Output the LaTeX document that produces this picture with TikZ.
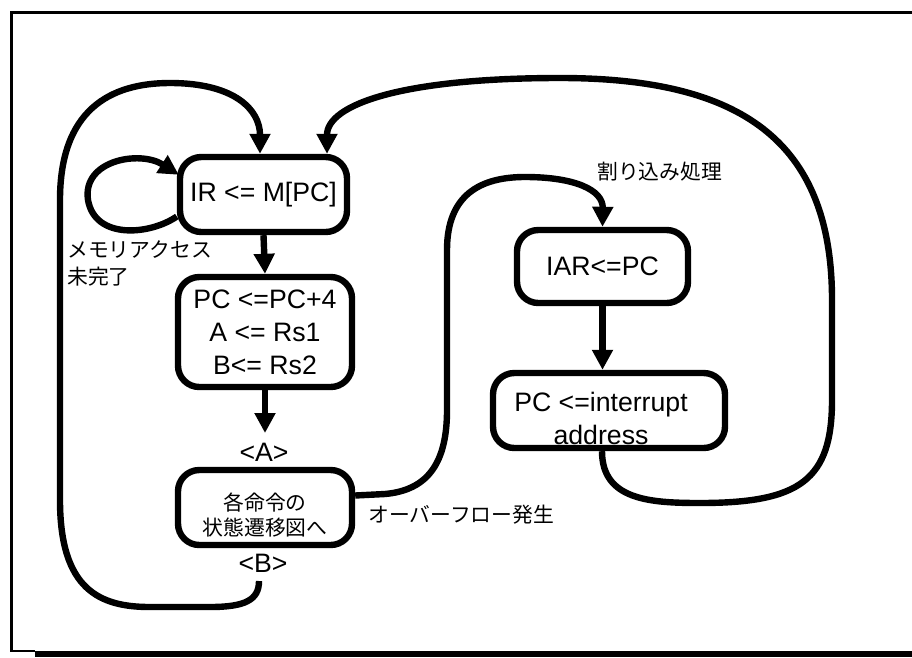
\documentclass[tikz,border=0pt]{standalone}
\usepackage{fontspec}
\setmainfont{Liberation Sans}
\newfontfamily\jp{Noto Sans CJK JP}
\usetikzlibrary{arrows.meta,calc}
\begin{document}
\begin{tikzpicture}[x=0.75pt,y=-0.75pt,
  box/.style={draw,line width=4.8pt,rounded corners=16pt,inner sep=0pt,align=center,
    font=\fontsize{20}{24.75}\selectfont},
  conn/.style={line width=4.8pt},
  arr/.style={conn,-{Triangle[length=15pt,width=15pt]}},
  lbl/.style={font=\fontsize{20}{24.75}\selectfont,inner sep=0pt,align=center},
  jlbl/.style={font=\jp\fontsize{15.6}{20}\selectfont,inner sep=0pt}]
\useasboundingbox (0,0) rectangle (912,657);
% frame
\draw[line width=2.4pt] (11.5,651) -- (11.5,12.5) -- (912,12.5);
\draw[line width=1.5pt] (10,651) -- (35,651);
\fill (35,651) rectangle (912,657);
% boxes
\node[box,minimum width=125.25pt,minimum height=56.25pt] (ir) at (263.5,194.5) {IR <= M[PC]};
\node[box,minimum width=130.5pt,minimum height=82.5pt] (pc) at (265,332) {PC <=PC+4\\A <= Rs1\\B<= Rs2};
\node[box,minimum width=130.5pt,minimum height=56.25pt] (inst) at (265,507.5) {};
\node[box,minimum width=128.25pt,minimum height=54.75pt] (iar) at (602.5,266.5) {IAR<=PC};
\node[box,minimum width=174pt,minimum height=56.25pt] (pci) at (609,410.5) {};
% texts
\node[jlbl,align=center,font=\jp\fontsize{15.6}{18.75}\selectfont] (instT) at (265,515.5) {各命令の\\状態遷移図へ};
\node[lbl] (pciT) at (601,418.5) {PC <=interrupt\\address};
\node[lbl] (lA) at (264,452) {<A>};
\node[lbl] (lB) at (263,563) {<B>};
\node[jlbl,align=left,anchor=west,font=\jp\fontsize{15.6}{20.25}\selectfont] (mem) at (67,263.5) {メモリアクセス\\未完了};
\node[jlbl,anchor=west] (intr) at (597,172) {割り込み処理};
\node[jlbl,anchor=west] (ovf) at (368,515) {オーバーフロー発生};
% connectors
\coordinate (aTip) at (265,433);
\coordinate (bS) at (259,581);
\draw[arr] (ir.south) -- (pc.north);
\draw[arr] (pc.south) -- (aTip);
\draw[arr] (iar.south) -- (iar.south |- pci.north);
\draw[arr] ($(ir.west)+(0,22)$) .. controls (150,235) and (95,240) .. (88,200)
  .. controls (82,160) and (140,150) .. ($(ir.north west)+(2,21)$);
\draw[arr] (bS) .. controls (259,600) and (245,607) .. (210,607) -- (150,607)
  .. controls (100,607) and (60,590) .. (60,500) -- (60,200)
  .. controls (60,110) and (110,83) .. (170,83)
  .. controls (235,83) and (260,110) .. ($(ir.north)+(-3.5,0)$);
\draw[arr] ($(inst.east)+(0,-12)$) -- (385,494) .. controls (430,490) and (447,460) .. (447,410)
  -- (447,250) .. controls (447,195) and (480,177) .. (525,177)
  .. controls (575,177) and (603,190) .. (iar.north);
\draw[arr] ($(pci.south)+(-7,0)$) .. controls (602,500) and (650,503) .. (700,503)
  .. controls (800,503) and (832,480) .. (832,400) -- (832,300)
  .. controls (832,140) and (740,78) .. (560,78)
  .. controls (400,78) and (327,105) .. ($(ir.north)+(63.5,0)$);
\end{tikzpicture}
\end{document}
